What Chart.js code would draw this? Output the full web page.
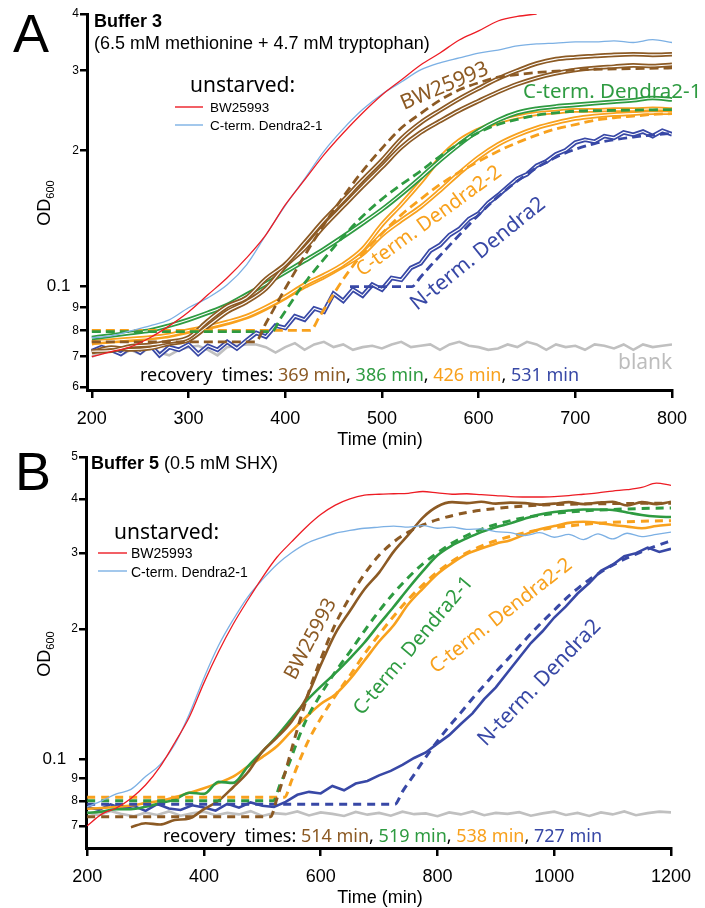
<!DOCTYPE html>
<html>
<head>
<meta charset="utf-8">
<script src="https://cdn.jsdelivr.net/npm/chart.js@4.4.1/dist/chart.umd.min.js"></script>
<style>
  html, body { margin: 0; padding: 0; background: #fff; }
  #wrap { position: relative; width: 705px; height: 908px; }
  canvas { position: absolute; left: 0; top: 0; }
</style>
</head>
<body>
<div id="wrap">
  <canvas id="chartA" width="705" height="908"></canvas>
  <canvas id="chartB" width="705" height="908"></canvas>
</div>
<script>
// ---------- Panel A : Buffer 3 ----------
const xTicksA = [200, 300, 400, 500, 600, 700, 800];
const yTicksA = [0.06, 0.07, 0.08, 0.09, 0.1, 0.2, 0.3, 0.4];
const yLabelsA = ['6', '7', '8', '9', '0.1', '2', '3', '4'];

const timeA = [200,220,240,260,280,300,320,340,360,380,400,420,440,460,480,500,520,540,560,580,600,620,640,660,680,700,720,740,760,780,800];
const redA = [0.0700,0.0718,0.0736,0.0771,0.0819,0.0879,0.0959,0.1046,0.1157,0.1301,0.1515,0.1720,0.1954,0.2184,0.2418,0.2650,0.2860,0.3086,0.3280,0.3505,0.3670,0.3860,0.3950,0.4000,null,null,null,null,null,null,null];
const skyA = [0.0771,0.0778,0.0798,0.0819,0.0844,0.0898,0.0944,0.1009,0.1117,0.1300,0.1510,0.1730,0.1990,0.2230,0.2460,0.2660,0.2830,0.3010,0.3120,0.3200,0.3280,0.3330,0.3400,0.3435,0.3450,0.3470,0.3470,0.3490,0.3460,0.3510,0.3460];
const brownA1 = [0.0720,0.0722,0.0738,0.0743,0.0755,0.0772,0.0840,0.0905,0.0945,0.1040,0.1120,0.1250,0.1400,0.1550,0.1720,0.1900,0.2120,0.2300,0.2450,0.2600,0.2740,0.2880,0.3000,0.3110,0.3180,0.3210,0.3230,0.3250,0.3260,0.3250,0.3260];
const brownA2 = [0.0716,0.0733,0.0726,0.0731,0.0748,0.0762,0.0818,0.0880,0.0925,0.0990,0.1110,0.1215,0.1360,0.1505,0.1665,0.1835,0.2030,0.2190,0.2320,0.2450,0.2570,0.2690,0.2800,0.2890,0.2960,0.3010,0.3040,0.3060,0.3080,0.3070,0.3090];
const greenA = [0.0770,0.0780,0.0790,0.0800,0.0820,0.0845,0.0875,0.0910,0.0960,0.1015,0.1075,0.1140,0.1210,0.1290,0.1380,0.1480,0.1600,0.1740,0.1900,0.2060,0.2210,0.2330,0.2420,0.2470,0.2500,0.2520,0.2540,0.2560,0.2580,0.2610,0.2590];
const orangeA1 = [0.0755,0.0760,0.0766,0.0772,0.0782,0.0800,0.0815,0.0835,0.0860,0.0900,0.0950,0.1010,0.1060,0.1120,0.1210,0.1370,0.1520,0.1700,0.1920,0.2100,0.2220,0.2310,0.2370,0.2410,0.2430,0.2450,0.2450,0.2460,0.2460,0.2470,0.2460];
const orangeA2 = [0.0750,0.0757,0.0762,0.0770,0.0779,0.0796,0.0811,0.0831,0.0856,0.0895,0.0945,0.1000,0.1050,0.1110,0.1180,0.1300,0.1400,0.1500,0.1630,0.1780,0.1930,0.2060,0.2160,0.2240,0.2300,0.2350,0.2380,0.2400,0.2410,0.2420,0.2420];

const timeA10 = [200,210,220,230,240,250,260,270,280,290,300,310,320,330,340,350,360,370,380,390,400,410,420,430,440,450,460,470,480,490,500,510,520,530,540,550,560,570,580,590,600,610,620,630,640,650,660,670,680,690,700,710,720,730,740,750,760,770,780,790,800];
const navyA = [0.0720,0.0735,0.0725,0.0710,0.0735,0.0715,0.0745,0.0705,0.0735,0.0725,
               0.0745,0.0710,0.0740,0.0725,0.0755,0.0730,0.0760,0.0790,0.0775,0.0820,
               0.0810,0.0860,0.0845,0.0895,0.0880,0.0965,0.0930,0.0985,0.0955,0.1010,
               0.0985,0.1045,0.1035,0.1100,0.1125,0.1200,0.1235,0.1300,0.1340,0.1410,
               0.1450,0.1530,0.1590,0.1660,0.1730,0.1770,0.1850,0.1890,0.1960,0.2000,
               0.2080,0.2110,0.2090,0.2150,0.2130,0.2190,0.2165,0.2200,0.2150,0.2210,0.2170];
const blankA = [0.0700,0.0715,0.0730,0.0705,0.0725,0.0710,0.0735,0.0715,0.0705,0.0725,
                0.0735,0.0740,0.0725,0.0705,0.0735,0.0740,0.0745,0.0745,0.0735,0.0715,
                0.0735,0.0750,0.0725,0.0745,0.0755,0.0735,0.0745,0.0725,0.0735,0.0740,
                0.0730,0.0745,0.0755,0.0735,0.0740,0.0745,0.0725,0.0745,0.0755,0.0740,
                0.0735,0.0725,0.0730,0.0745,0.0735,0.0755,0.0745,0.0725,0.0745,0.0735,
                0.0740,0.0725,0.0745,0.0740,0.0730,0.0745,0.0725,0.0745,0.0735,0.0740,0.0745];

// fitted curves (dashed), panel A
const brownFitTimeA = [200,369,380,400,420,440,460,480,500,520,540,560,580,600,620,640,660,680,700,720,760,800];
const brownFitA = [0.0755,0.0755,0.0830,0.0990,0.1170,0.1370,0.1580,0.1800,0.2020,0.2240,0.2410,0.2580,0.2720,0.2820,0.2900,0.2940,0.2970,0.2990,0.3010,0.3020,0.3030,0.3040];
const greenFitTimeA = [200,386,395,405,415,425,440,460,480,500,520,540,560,580,600,620,640,660,680,700,740,800];
const greenFitA = [0.0795,0.0795,0.0850,0.0915,0.0985,0.1050,0.1150,0.1290,0.1430,0.1560,0.1680,0.1800,0.1940,0.2070,0.2190,0.2280,0.2340,0.2390,0.2420,0.2440,0.2450,0.2460];
const orangeFitTimeA = [200,426,435,445,455,465,480,500,520,540,560,580,600,620,640,660,680,700,720,740,760,780,800];
const orangeFitA = [0.0800,0.0800,0.0855,0.0925,0.1000,0.1075,0.1180,0.1310,0.1440,0.1560,0.1680,0.1790,0.1890,0.1990,0.2080,0.2160,0.2230,0.2280,0.2330,0.2360,0.2380,0.2400,0.2410];
const navyFitTimeA = [467,531,540,550,560,580,600,620,640,660,680,700,720,740,760,780,800];
const navyFitA = [0.1000,0.1000,0.1050,0.1110,0.1170,0.1300,0.1440,0.1580,0.1710,0.1830,0.1930,0.2010,0.2070,0.2110,0.2140,0.2160,0.2180];

// ---------- Panel B : Buffer 5 ----------
const xTicksB = [200, 400, 600, 800, 1000, 1200];
const yTicksB = [0.07, 0.08, 0.09, 0.1, 0.2, 0.3, 0.4, 0.5];
const yLabelsB = ['7', '8', '9', '0.1', '2', '3', '4', '5'];

const timeB = [200,225,250,275,300,325,350,375,400,425,450,475,500,525,550,575,600,625,650,675,700,725,750,775,800,825,850,875,900,925,950,975,1000,1025,1050,1075,1100,1125,1150,1175,1200];
const redB = [0.0700,0.0745,0.0770,0.0810,0.0870,0.0960,0.1090,0.1250,0.1500,0.1770,0.2050,0.2330,0.2630,0.2930,0.3180,0.3440,0.3680,0.3870,0.4000,0.4080,0.4100,0.4110,0.4120,0.4160,0.4130,0.4100,0.4110,0.4090,0.4070,0.4050,0.4040,0.4040,0.4050,0.4070,0.4100,0.4130,0.4170,0.4200,0.4250,0.4350,0.4300];
const skyB = [0.0775,0.0800,0.0830,0.0850,0.0910,0.0970,0.1080,0.1270,0.1540,0.1830,0.2100,0.2370,0.2600,0.2820,0.3000,0.3150,0.3250,0.3330,0.3380,0.3420,0.3440,0.3460,0.3440,0.3470,0.3420,0.3440,0.3400,0.3410,0.3360,0.3340,0.3290,0.3340,0.3260,0.3310,0.3220,0.3320,0.3230,0.3330,0.3270,0.3310,0.3350];
const brownB = [null,null,null,0.0695,0.0710,0.0705,0.0722,0.0728,0.0765,0.0800,0.0860,0.0930,0.1040,0.1120,0.1220,0.1380,0.1650,0.1950,0.2200,0.2470,0.2700,0.3020,0.3300,0.3620,0.3840,0.3930,0.3910,0.3940,0.3900,0.3920,0.3910,0.3880,0.3900,0.3930,0.3890,0.3920,0.3940,0.3860,0.3930,0.3890,0.3940];
const greenB = [0.0750,0.0755,0.0765,0.0765,0.0775,0.0790,0.0805,0.0835,0.0830,0.0885,0.0880,0.0960,0.1040,0.1130,0.1240,0.1360,0.1470,0.1580,0.1710,0.1860,0.2050,0.2250,0.2480,0.2720,0.2960,0.3120,0.3240,0.3350,0.3440,0.3510,0.3600,0.3680,0.3730,0.3760,0.3780,0.3780,0.3770,0.3720,0.3670,0.3640,0.3630];
const orangeB = [0.0767,0.0770,0.0775,0.0780,0.0790,0.0800,0.0815,0.0835,0.0855,0.0880,0.0910,0.0960,0.1010,0.1070,0.1160,0.1250,0.1340,0.1410,0.1530,0.1690,0.1870,0.2040,0.2280,0.2480,0.2680,0.2840,0.2980,0.3070,0.3150,0.3210,0.3310,0.3400,0.3460,0.3520,0.3540,0.3520,0.3480,0.3450,0.3420,0.3460,0.3490];

const timeB20 = [200,220,240,260,280,300,320,340,360,380,400,420,440,460,480,500,520,540,560,580,600,620,640,660,680,700,720,740,760,780,800,820,840,860,880,900,920,940,960,980,1000,1020,1040,1060,1080,1100,1120,1140,1160,1180,1200];
const navyB = [0.0775,0.0762,0.0785,0.0768,0.0778,0.0758,0.0786,0.0768,0.0762,0.0781,
               0.0772,0.0759,0.0787,0.0771,0.0793,0.0779,0.0774,0.0795,0.0826,0.0839,
               0.0832,0.0866,0.0846,0.0877,0.0889,0.0916,0.0938,0.0969,0.1005,0.1035,
               0.1085,0.1135,0.1205,0.1275,0.1375,0.1465,0.1585,0.1715,0.1855,0.1975,
               0.2125,0.2255,0.2415,0.2555,0.2725,0.2815,0.2945,0.2995,0.3085,0.3015,0.3065];
const blankB = [0.0752,0.0741,0.0758,0.0745,0.0737,0.0751,0.0742,0.0756,0.0739,0.0748,
                0.0755,0.0741,0.0750,0.0744,0.0757,0.0738,0.0749,0.0745,0.0756,0.0740,
                0.0752,0.0746,0.0738,0.0754,0.0743,0.0750,0.0739,0.0755,0.0745,0.0748,
                0.0737,0.0752,0.0744,0.0756,0.0741,0.0750,0.0746,0.0753,0.0739,0.0748,
                0.0755,0.0742,0.0750,0.0738,0.0752,0.0744,0.0756,0.0741,0.0749,0.0755,0.0752];

// fitted curves (dashed), panel B
const brownFitTimeB = [200,514,525,540,555,570,585,600,625,650,675,700,725,750,775,800,850,900,950,1000,1100,1200];
const brownFitB = [0.0735,0.0735,0.0810,0.0940,0.1110,0.1300,0.1500,0.1700,0.2050,0.2370,0.2680,0.2960,0.3180,0.3350,0.3480,0.3580,0.3720,0.3800,0.3850,0.3880,0.3900,0.3910];
const greenFitTimeB = [200,519,530,545,560,575,600,625,650,675,700,725,750,775,800,825,850,875,900,950,1000,1050,1100,1150,1200];
const greenFitB = [0.0800,0.0800,0.0870,0.0970,0.1100,0.1230,0.1410,0.1590,0.1770,0.1980,0.2200,0.2420,0.2630,0.2830,0.3000,0.3160,0.3290,0.3400,0.3490,0.3620,0.3700,0.3750,0.3780,0.3800,0.3810];
const orangeFitTimeB = [200,538,550,565,580,600,625,650,675,700,725,750,775,800,825,850,875,900,950,1000,1050,1100,1150,1200];
const orangeFitB = [0.0815,0.0815,0.0890,0.1000,0.1110,0.1240,0.1400,0.1560,0.1750,0.1940,0.2140,0.2340,0.2530,0.2710,0.2870,0.3000,0.3110,0.3200,0.3340,0.3430,0.3490,0.3530,0.3550,0.3560];
const navyFitTimeB = [200,727,740,760,780,800,820,840,860,880,900,920,940,960,980,1000,1020,1040,1060,1080,1100,1120,1140,1160,1180,1200];
const navyFitB = [0.0785,0.0785,0.0840,0.0920,0.1010,0.1100,0.1190,0.1280,0.1380,0.1480,0.1590,0.1700,0.1820,0.1950,0.2080,0.2210,0.2350,0.2480,0.2600,0.2710,0.2810,0.2900,0.2980,0.3060,0.3130,0.3200];

// ---------- styling ----------
const AX = '"Liberation Sans", Arial, sans-serif';
const LB = '"Noto Sans", sans-serif';
const COL = {
  red: '#ed1c24', sky: '#7cb0e4', brown: '#8c5a24', green: '#2e9b41',
  orange: '#f8a11d', navy: '#3848a6', blank: '#c0c0c0'
};

function pts(times, vals) {
  return times.map((t, i) => ({ x: t, y: vals[i] }));
}

function line(times, vals, color, width, extra) {
  return Object.assign({
    data: pts(times, vals),
    borderColor: color,
    borderWidth: width,
    pointRadius: 0,
    fill: false,
    spanGaps: false,
    cubicInterpolationMode: 'monotone'
  }, extra || {});
}

const jagged = { cubicInterpolationMode: 'default', tension: 0 };

// coloured line with a thin white core, like the overlapping replicates
function doubled(times, vals, color, extra) {
  return [
    line(times, vals, color, 4.6, extra),
    line(times, vals, '#ffffff', 1.1, extra)
  ];
}

// datasets listed back to front, order set so later ones draw on top
function stack(list) {
  list.forEach((d, i) => { d.order = list.length - i; });
  return list;
}

// the "0.1" label sits further from the axis than the digit labels
function scales(xmin, xmax, xTicks, ymin, ymax, yTicks, yLabels, yWidth, tenthGap) {
  return {
    x: {
      type: 'linear', min: xmin, max: xmax,
      afterBuildTicks: s => { s.ticks = xTicks.map(v => ({ value: v })); },
      afterFit: s => { s.height = 40; },
      ticks: {
        color: '#000', font: { family: AX, size: 18 }, padding: 10,
        maxRotation: 0, autoSkip: false, callback: v => String(v)
      },
      grid: { drawOnChartArea: false, drawTicks: true, tickLength: 8, color: '#000', lineWidth: 2.5 },
      border: { display: true, color: '#000', width: 3 }
    },
    y: {
      type: 'logarithmic', min: ymin, max: ymax,
      afterBuildTicks: s => { s.ticks = yTicks.map(v => ({ value: v })); },
      afterFit: s => { s.width = yWidth; },
      ticks: {
        color: '#000', padding: 1, autoSkip: false,
        callback: (v, i) => (v === 0.1 ? yLabels[i] + tenthGap : yLabels[i]),
        font: c => ({ family: AX, size: (c.tick && c.tick.value === 0.1) ? 17 : 12 })
      },
      grid: { drawOnChartArea: false, drawTicks: true, tickLength: 7, color: '#000', lineWidth: 2.5 },
      border: { display: true, color: '#000', width: 3 }
    }
  };
}

// text and legend drawn straight on the canvas
function annotations(id, items) {
  return {
    id: id,
    afterDraw(chart) {
      const ctx = chart.ctx;
      items.forEach(it => {
        ctx.save();
        if (it.seg) {
          ctx.strokeStyle = it.color;
          ctx.lineWidth = it.width;
          ctx.beginPath();
          ctx.moveTo(it.seg[0], it.seg[1]);
          ctx.lineTo(it.seg[2], it.seg[3]);
          ctx.stroke();
          ctx.restore();
          return;
        }
        ctx.translate(it.x, it.y);
        if (it.rot) ctx.rotate(it.rot * Math.PI / 180);
        ctx.textBaseline = 'alphabetic';
        ctx.textAlign = 'left';
        let x = 0;
        if (it.center) {
          let w = 0;
          it.parts.forEach(p => { ctx.font = p[2]; w += ctx.measureText(p[0]).width; });
          x = -w / 2;
        }
        it.parts.forEach(p => {
          ctx.font = p[2];
          ctx.fillStyle = p[1];
          ctx.fillText(p[0], x, p[3] || 0);
          x += ctx.measureText(p[0]).width;
        });
        ctx.restore();
      });
    }
  };
}

function T(text, x, y, font, color, rot) {
  return { x: x, y: y, rot: rot || 0, parts: [[text, color || '#000', font]] };
}

function odTitle(x, y) {
  return { x: x, y: y, rot: -90, center: true,
    parts: [['OD', '#000', '18px ' + AX], ['600', '#000', '11px ' + AX, 4]] };
}

function recovery(x, y, times) {
  const f = '18px ' + LB;
  return { x: x, y: y, parts: [
    ['recovery  times: ', '#000', f],
    [times[0] + ' min', COL.brown, f], [', ', '#000', f],
    [times[1] + ' min', COL.green, f], [', ', '#000', f],
    [times[2] + ' min', COL.orange, f], [', ', '#000', f],
    [times[3] + ' min', COL.navy, f]
  ] };
}

const textA = [
  T('A', 13, 52, '54px ' + AX),
  T('Buffer 3', 94, 27, 'bold 18px ' + AX),
  T('(6.5 mM methionine + 4.7 mM tryptophan)', 94, 49, '18px ' + AX),
  T('unstarved:', 190, 92, '21px ' + LB),
  { seg: [175, 107, 203, 107], color: COL.red, width: 1.4 },
  { seg: [175, 125, 203, 125], color: COL.sky, width: 1.4 },
  T('BW25993', 210, 112, '13.5px ' + AX),
  T('C-term. Dendra2-1', 210, 130, '13.5px ' + AX),
  T('BW25993', 404, 110, '21px ' + LB, COL.brown, -23),
  T('C-term. Dendra2-1', 523, 98, '20.5px ' + LB, COL.green),
  T('C-term. Dendra2-2', 362, 277, '20px ' + LB, COL.orange, -36),
  T('N-term. Dendra2', 417, 311, '21px ' + LB, COL.navy, -39),
  T('blank', 618, 369, '21px ' + LB, '#bdbdbd'),
  recovery(140, 381, ['369', '386', '426', '531']),
  { x: 380, y: 445, center: true, parts: [['Time (min)', '#000', '18px ' + AX]] },
  odTitle(50, 203)
];

const textB = [
  T('B', 15, 490, '54px ' + AX),
  { x: 91, y: 469, parts: [['Buffer 5', '#000', 'bold 18px ' + AX], [' (0.5 mM SHX)', '#000', '18px ' + AX]] },
  T('unstarved:', 114, 539, '21px ' + LB),
  { seg: [98, 553, 127, 553], color: COL.red, width: 1.4 },
  { seg: [98, 571, 127, 571], color: COL.sky, width: 1.4 },
  T('BW25993', 131, 558, '14px ' + AX),
  T('C-term. Dendra2-1', 131, 577, '14px ' + AX),
  T('BW25993', 295, 681, '20px ' + LB, COL.brown, -62),
  T('C-term. Dendra2-1', 362, 716, '20px ' + LB, COL.green, -50),
  T('C-term. Dendra2-2', 436, 674, '20px ' + LB, COL.orange, -38),
  T('N-term. Dendra2', 486, 747, '21px ' + LB, COL.navy, -46),
  recovery(163, 842, ['514', '519', '538', '727']),
  { x: 380, y: 903, center: true, parts: [['Time (min)', '#000', '18px ' + AX]] },
  odTitle(50, 654)
];

const dashA = { borderDash: [9, 5] };
const dashB = { borderDash: [8, 6] };

const datasetsA = stack([
  line(timeA10, blankA, COL.blank, 2.6, jagged),
  ...doubled(timeA10, navyA, COL.navy, jagged),
  ...doubled(timeA, orangeA2, COL.orange),
  ...doubled(timeA, orangeA1, COL.orange),
  ...doubled(timeA, greenA, COL.green),
  ...doubled(timeA, brownA2, COL.brown),
  ...doubled(timeA, brownA1, COL.brown),
  line(navyFitTimeA, navyFitA, COL.navy, 2.8, dashA),
  line(orangeFitTimeA, orangeFitA, COL.orange, 2.8, dashA),
  line(greenFitTimeA, greenFitA, COL.green, 2.8, dashA),
  line(brownFitTimeA, brownFitA, COL.brown, 2.8, dashA),
  line(timeA, skyA, COL.sky, 1.3),
  line(timeA, redA, COL.red, 1.3)
]);

const datasetsB = stack([
  line(timeB20, blankB, COL.blank, 2.6, jagged),
  line(timeB20, navyB, COL.navy, 2.6, jagged),
  line(timeB, orangeB, COL.orange, 2.6),
  line(timeB, greenB, COL.green, 2.6),
  line(timeB, brownB, COL.brown, 2.6),
  line(navyFitTimeB, navyFitB, COL.navy, 3, dashB),
  line(orangeFitTimeB, orangeFitB, COL.orange, 3, dashB),
  line(greenFitTimeB, greenFitB, COL.green, 3, dashB),
  line(brownFitTimeB, brownFitB, COL.brown, 3, dashB),
  line(timeB, skyB, COL.sky, 1.3),
  line(timeB, redB, COL.red, 1.3)
]);

function makeChart(id, datasets, sc, padding, text) {
  return new Chart(document.getElementById(id).getContext('2d'), {
    type: 'line',
    data: { datasets: datasets },
    options: {
      responsive: false,
      animation: false,
      devicePixelRatio: 1,
      layout: { padding: padding },
      plugins: { legend: { display: false }, tooltip: { enabled: false } },
      scales: sc
    },
    plugins: [annotations(id + 'Text', text)]
  });
}

makeChart('chartA', datasetsA,
  scales(195, 800, xTicksA, 0.0591, 0.4, yTicksA, yLabelsA, 87, '\u2002'),
  { top: 14, right: 33, bottom: 478, left: 0 }, textA);

makeChart('chartB', datasetsB,
  scales(198, 1200, xTicksB, 0.0622, 0.5, yTicksB, yLabelsB, 86, '\u2002\u2009'),
  { top: 457, right: 34, bottom: 20, left: 0 }, textB);
</script>
</body>
</html>
